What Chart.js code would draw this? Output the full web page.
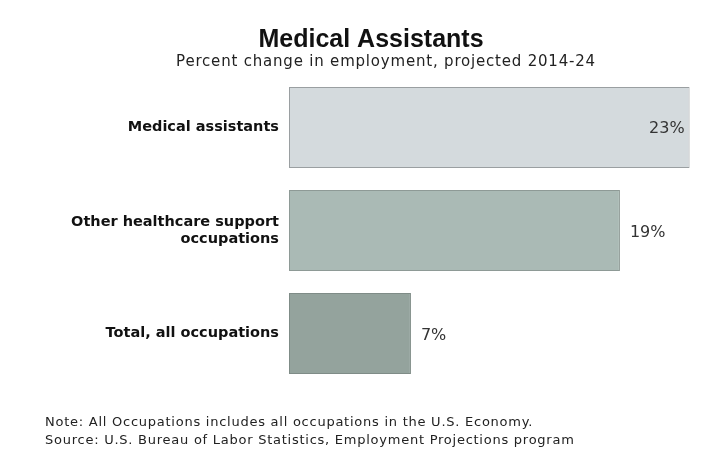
<!DOCTYPE html>
<html>
<head>
<meta charset="utf-8">
<script src="https://cdn.jsdelivr.net/npm/chart.js@4/dist/chart.umd.min.js"></script>
<style>
  html, body { margin: 0; padding: 0; background: #fff; }
  #wrap { position: relative; width: 719px; height: 454px; }
  #notes {
    position: absolute; left: 45px; top: 413px;
    font-family: "DejaVu Sans", Verdana, sans-serif; font-size: 13px;
    letter-spacing: 0.75px; line-height: 18px; color: #222;
  }
</style>
</head>
<body>
<div id="wrap">
  <canvas id="chart" width="719" height="454"></canvas>
  <div id="notes">
    Note: All Occupations includes all occupations in the U.S. Economy.<br>
    Source: U.S. Bureau of Labor Statistics, Employment Projections program
  </div>
</div>
<script>
// Chart data
const categories = [['Medical assistants'], ['Other healthcare support', 'occupations'], ['Total, all occupations']];
const percentChange = [23, 19, 7];
const barColors = ['#d4dadd', '#aabab5', '#94a39d'];
const borderColors = ['#9a9fa1', '#8e9a96', '#7f8c87'];

const titleText = 'Medical Assistants';
const subtitleText = 'Percent change in employment, projected 2014-24';

// Draws the title, subtitle and the value labels
const labelsPlugin = {
    id: 'labels',
    afterDraw(chart) {
        const ctx = chart.ctx;
        ctx.save();
        ctx.fillStyle = '#111';
        ctx.textAlign = 'center';
        ctx.textBaseline = 'middle';
        ctx.font = 'bold 25px "Liberation Sans", Arial, sans-serif';
        ctx.fillText(titleText, 371, 40);
        ctx.font = '15px "DejaVu Sans", Verdana, sans-serif';
        ctx.letterSpacing = '0.8px';
        ctx.fillStyle = '#222';
        ctx.fillText(subtitleText, 386, 62);
        ctx.letterSpacing = '0px';

        // value labels: inside the longest bar, beside the others
        const meta = chart.getDatasetMeta(0);
        ctx.font = '16px "DejaVu Sans", Verdana, sans-serif';
        ctx.fillStyle = '#333';
        meta.data.forEach((bar, i) => {
            const text = percentChange[i] + '%';
            if (i === 0) {
                ctx.textAlign = 'right';
                ctx.fillText(text, bar.x - 5, bar.y + 1);
            } else {
                ctx.textAlign = 'left';
                ctx.fillText(text, bar.x + 10, bar.y + 2);
            }
        });
        ctx.restore();
    }
};

new Chart(document.getElementById('chart'), {
    type: 'bar',
    data: {
        labels: categories,
        datasets: [{
            data: percentChange,
            backgroundColor: barColors,
            borderColor: borderColors,
            borderWidth: 1,
            borderSkipped: false,
            categoryPercentage: 0.786,
            barPercentage: 1
        }]
    },
    options: {
        indexAxis: 'y',
        responsive: false,
        animation: false,
        layout: { padding: { top: 76, bottom: 69, left: 0, right: 12 } },
        plugins: {
            legend: { display: false },
            tooltip: { enabled: false }
        },
        scales: {
            x: {
                display: false,
                min: 0,
                max: 24
            },
            y: {
                grid: { display: false },
                border: { display: false },
                ticks: {
                    color: '#111',
                    padding: 2,
                    font: { family: '"DejaVu Sans", Verdana, sans-serif', size: 14.5, weight: 'bold', lineHeight: 1.15 }
                },
                afterFit(scale) {
                    scale.width = 289;
                }
            }
        }
    },
    plugins: [labelsPlugin]
});
</script>
</body>
</html>
